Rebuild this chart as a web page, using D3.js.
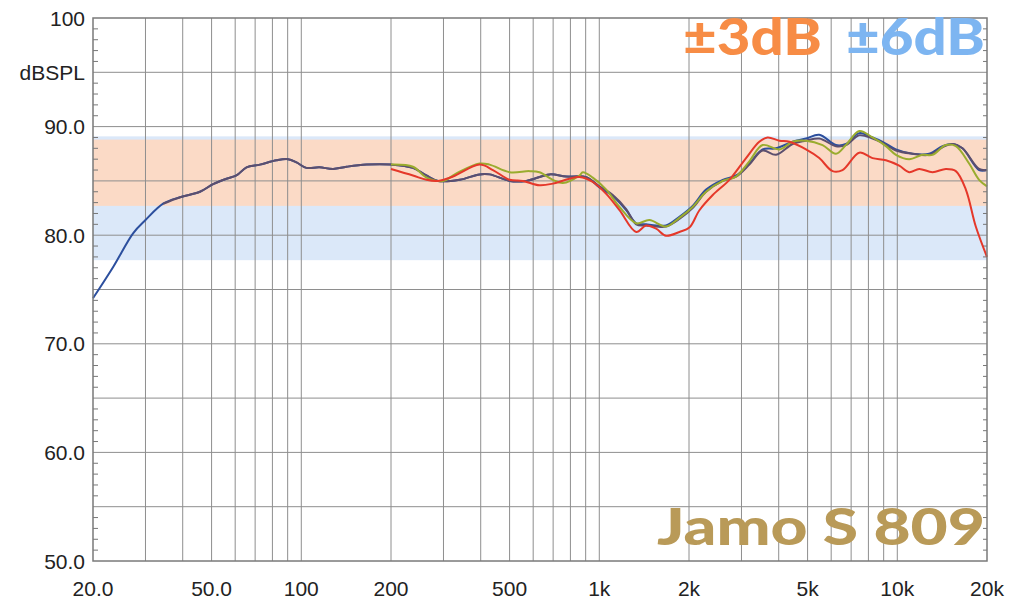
<!DOCTYPE html>
<html><head><meta charset="utf-8">
<script src="https://cdn.jsdelivr.net/npm/d3@7"></script>
<style>body{margin:0;background:#fff}svg{display:block}</style>
</head><body>
<svg id="c" width="1024" height="614"></svg>
<script>
const freqTicks = [20,50,100,200,500,1000,2000,5000,10000,20000];
const freqTickLabels = ["20.0","50.0","100","200","500","1k","2k","5k","10k","20k"];
const dbTicks = [50,60,70,80,90,100];
const dbTickLabels = ["50.0","60.0","70.0","80.0","90.0","100"];
const band6 = [77.7, 89.1];
const band3 = [82.7, 88.8];

const blueData = [[20,74.2],[23.4,77.1],[27.3,80.2],[30,81.4],[34.4,82.9],[39.2,83.5],[45.7,84.0],[50.6,84.7],[56.1,85.2],[60.6,85.5],[65.5,86.25],[72.6,86.5],[82.6,86.9],[90.3,87.0],[96.4,86.7],[104,86.2],[115,86.25],[127.8,86.1],[141.8,86.3],[165.5,86.5],[200,86.5],[237,86.2],[263,85.5],[287.5,85.0],[340,85.1],[396.6,85.6],[428.5,85.6],[500,85.0],[568.6,85.0],[681,85.6],[774.6,85.4],[903.7,85.35],[1001,84.4],[1110,83.6],[1231,82.3],[1330,81.1],[1436,81.0],[1551,80.9],[1675,80.9],[1857,81.7],[2057,82.7],[2282,84.2],[2596,85.1],[2877,85.5],[3188,86.6],[3532,87.9],[3918,88.0],[4453,88.6],[4938,88.9],[5472,89.25],[6225,88.3],[6724,88.4],[7454,89.4],[8259,89.0],[8923,88.6],[9893,87.9],[11247,87.5],[12795,87.5],[14175,88.2],[15315,88.4],[16549,88.0],[18816,86.0],[20000,86.0]];
const purpleData = [[34.4,82.9],[39.2,83.5],[45.7,84.0],[50.6,84.7],[56.1,85.2],[60.6,85.5],[65.5,86.25],[72.6,86.5],[82.6,86.9],[90.3,87.0],[96.4,86.7],[104,86.2],[115,86.25],[127.8,86.1],[141.8,86.3],[165.5,86.5],[200,86.5],[237,86.2],[263,85.5],[287.5,85.0],[340,85.1],[396.6,85.6],[428.5,85.6],[500,85.0],[568.6,85.0],[681,85.6],[774.6,85.4],[903.7,85.35],[1001,84.5],[1110,83.7],[1231,82.4],[1330,81.0],[1436,80.9],[1551,80.8],[1675,80.8],[1857,81.5],[2057,82.5],[2282,84.0],[2596,85.0],[2877,85.4],[3188,86.5],[3532,87.8],[3918,87.4],[4453,88.4],[4938,88.7],[5472,88.9],[6225,88.2],[6724,88.3],[7454,89.2],[8259,88.9],[8923,88.5],[9893,87.8],[11247,87.5],[12795,87.4],[14175,88.1],[15315,88.4],[16549,88.0],[18816,86.1],[20000,86.0]];
const greenData = [[200,86.5],[237,86.3],[263,85.3],[299,85.0],[331.6,85.7],[396.6,86.6],[428.5,86.5],[500,85.8],[583.4,85.9],[630,85.8],[698.6,85.1],[754.6,84.8],[858,85.5],[880.6,85.8],[951,85.3],[1055,84.2],[1169,82.6],[1330,81.1],[1473,81.4],[1675,80.8],[1857,81.6],[2057,82.6],[2282,84.0],[2596,85.0],[2877,85.4],[3188,86.8],[3532,88.3],[4019,87.9],[4453,88.6],[4938,88.7],[5614,88.3],[6225,87.5],[6724,88.3],[7454,89.6],[8259,89.0],[9159,88.2],[9893,87.4],[10963,87.0],[12149,87.4],[13128,87.4],[14553,88.3],[15722,88.2],[17419,86.6],[18816,85.1],[20000,84.5]];
const redData = [[200,86.1],[237,85.5],[263,85.1],[287.5,85.0],[323,85.4],[396.6,86.5],[439.6,86.0],[500,85.1],[554,85.0],[630,84.6],[698.6,84.75],[794.3,85.2],[858,85.35],[951,84.9],[1055,83.8],[1169,82.3],[1330,80.3],[1436,80.9],[1551,80.6],[1675,79.95],[1857,80.3],[2006,80.7],[2168,82.3],[2403,83.7],[2732,85.1],[3108,87.1],[3443,88.6],[3670,89.0],[4019,88.7],[4341,88.6],[4938,87.9],[5472,87.1],[6065,85.9],[6549,86.0],[7454,87.6],[8259,87.1],[9159,86.9],[10149,86.4],[10963,85.8],[11843,86.1],[13128,85.8],[14553,86.1],[15722,85.9],[16985,84.2],[18341,80.8],[20000,78.0]];

const L = 93, R = 987, T = 18, B = 561;
const svg = d3.select("#c");
const x = d3.scaleLog().domain([20,20000]).range([L,R]);
const y = d3.scaleLinear().domain([50,100]).range([B,T]);

// bands
svg.append("rect").attr("x",L).attr("width",R-L).attr("y",y(band6[1])).attr("height",y(band6[0])-y(band6[1])).attr("fill","#dbe8f9");
svg.append("rect").attr("x",L).attr("width",R-L).attr("y",y(band3[1])).attr("height",y(band3[0])-y(band3[1])).attr("fill","#fbdac6");

// grid
const vgrid = [];
[10,100,1000,10000].forEach(d=>{for(let k=1;k<=9;k++){const f=d*k; if(f>20 && f<20000) vgrid.push(f);}});
const g = svg.append("g");
g.selectAll(".v").data(vgrid).enter().append("line")
 .attr("x1",d=>x(d)).attr("x2",d=>x(d)).attr("y1",T).attr("y2",B)
 .attr("stroke","#8e8e8e").attr("stroke-width",1);
g.selectAll(".h").data(d3.range(55,100,5)).enter().append("line")
 .attr("x1",L).attr("x2",R).attr("y1",d=>y(d)).attr("y2",d=>y(d))
 .attr("stroke","#8e8e8e").attr("stroke-width",1);
// minor ticks
const minor = d3.range(51,100,1).filter(d=>d%5!==0);
g.selectAll(".tl").data(minor).enter().append("line")
 .attr("x1",L).attr("x2",L+5).attr("y1",d=>y(d)).attr("y2",d=>y(d)).attr("stroke","#777");
g.selectAll(".tr").data(minor).enter().append("line")
 .attr("x1",R-4).attr("x2",R).attr("y1",d=>y(d)).attr("y2",d=>y(d)).attr("stroke","#777");

// curves
const line = d3.line().x(d=>x(d[0])).y(d=>y(d[1])).curve(d3.curveCatmullRom.alpha(0.5));
const series = [[blueData,"#2c4f9e"],[purpleData,"#5c4f6e"],[greenData,"#9aac2e"],[redData,"#e5382a"]];
series.forEach(([data,col])=>{
  svg.append("path").datum(data).attr("d",line).attr("fill","none").attr("stroke",col).attr("stroke-width",2);
});

// border
svg.append("rect").attr("x",L).attr("y",T).attr("width",R-L).attr("height",B-T)
 .attr("fill","none").attr("stroke","#7a7a7a").attr("stroke-width",1.5);

// axes labels
const font = "Liberation Sans, Arial, sans-serif";
svg.selectAll(".yl").data(dbTicks).enter().append("text")
 .attr("x",85).attr("y",d=>y(d)+7.5).attr("text-anchor","end")
 .attr("font-family",font).attr("font-size",21).attr("fill","#222")
 .text((d,i)=>dbTickLabels[i]);
svg.append("text").attr("x",85).attr("y",y(95)+7.5).attr("text-anchor","end")
 .attr("font-family",font).attr("font-size",21).attr("fill","#222").text("dBSPL");
svg.selectAll(".xl").data(freqTicks).enter().append("text")
 .attr("x",d=>x(d)).attr("y",596).attr("text-anchor","middle")
 .attr("font-family",font).attr("font-size",21).attr("fill","#222")
 .text((d,i)=>freqTickLabels[i]);

// overlays
const tf = "Lato, 'Open Sans', sans-serif";
svg.append("text").attr("x",683).attr("y",55).attr("font-family",tf).attr("font-weight",900)
 .attr("font-size",52).attr("fill","#f78c45").attr("textLength",139).attr("lengthAdjust","spacingAndGlyphs").text("±3dB");
svg.append("text").attr("x",846).attr("y",55).attr("font-family",tf).attr("font-weight",900)
 .attr("font-size",52).attr("fill","#7db5f1").attr("textLength",139).attr("lengthAdjust","spacingAndGlyphs").text("±6dB");
svg.append("text").attr("x",657).attr("y",545).attr("font-family",tf).attr("font-weight",900)
 .attr("font-size",52).attr("fill","#b99a58").attr("textLength",328).attr("lengthAdjust","spacingAndGlyphs").text("Jamo S 809");
</script>
</body></html>
